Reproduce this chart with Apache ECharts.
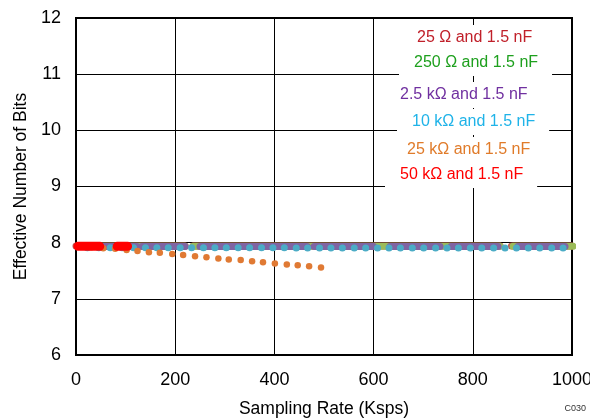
<!DOCTYPE html>
<html>
<head>
<meta charset="utf-8">
<script src="https://cdn.jsdelivr.net/npm/echarts@6/dist/echarts.min.js"></script>
<style>
  html, body { margin: 0; padding: 0; background: #fff; }
  #chart { width: 590px; height: 418px; }
</style>
</head>
<body>
<div id="chart"></div>
<script>
// series names (legend text)
var names = ['25 Ω and 1.5 nF', '250 Ω and 1.5 nF', '2.5 kΩ and 1.5 nF',
             '10 kΩ and 1.5 nF', '25 kΩ and 1.5 nF', '50 kΩ and 1.5 nF'];

// dense runs of points, read as [start, end] sampling rates (Ksps) at a flat ENOB
var runs25R = [[0, 220], [236, 855], [878, 1000]];
var enob25R = 7.942;
var runs250R = [[10, 220], [236, 855], [881, 1002]];
var enob250R = 7.935;
var runs2k5 = [[40, 123], [133, 220], [250, 466], [480, 600], [633, 734], [756, 851], [891, 986]];
var enob2k5 = 7.933;
var runs50k = [[4, 48], [83, 104]];
var enob50k = 7.935;

// 10 kOhm: separate points
var rate10k = [23, 46, 69, 93, 116, 140, 163, 186, 210, 233, 257, 280, 303, 327, 350, 374, 397, 420,
               444, 467, 491, 514, 537, 561, 584, 608, 631, 654, 678, 701, 725, 748, 771, 795, 818,
               842, 865, 888, 912, 935, 959, 982];
var enob10k = [7.91, 7.91, 7.91, 7.91, 7.91, 7.91, 7.91, 7.91, 7.91, 7.91, 7.91, 7.91, 7.91, 7.91,
               7.91, 7.91, 7.91, 7.91, 7.905, 7.905, 7.905, 7.905, 7.905, 7.905, 7.905, 7.905, 7.905,
               7.905, 7.905, 7.905, 7.905, 7.905, 7.905, 7.905, 7.905, 7.905, 7.905, 7.905, 7.905,
               7.905, 7.905, 7.905];

// 25 kOhm: drops with rate
var rate25k = [8, 31, 55, 79, 102, 124, 147, 169, 194, 216, 240, 263, 287, 308, 332, 355, 377, 401,
               425, 447, 470, 494];
var enob25k = [7.94, 7.92, 7.90, 7.89, 7.87, 7.85, 7.83, 7.82, 7.80, 7.78, 7.76, 7.74, 7.72, 7.70,
               7.69, 7.67, 7.65, 7.63, 7.61, 7.60, 7.58, 7.56];

var colors = ['#c0504d', '#9bbb59', '#8064a2', '#4bacc6', '#e07a34', '#ff0000'];
var textColors = ['#c0202a', '#1ea01e', '#7030a0', '#1fb3e8', '#e07b2a', '#ff0000'];

var font = 'Liberation Sans, Arial, sans-serif';

function runData(runs, y) {
    var out = [];
    runs.forEach(function (r, i) {
        if (i > 0) out.push([r[0], '-']);
        out.push([r[0], y]);
        out.push([r[1], y]);
    });
    return out;
}
function pairs(xs, ys) {
    return xs.map(function (x, i) { return [x, ys[i]]; });
}

function bandSeries(name, data, color, width) {
    return {
        name: name, type: 'line', data: data, symbol: 'none', color: color,
        lineStyle: { width: width, color: color, cap: 'round' }
    };
}
function dotSeries(name, data, color, size) {
    return {
        name: name, type: 'scatter', data: data, symbol: 'circle', symbolSize: size,
        itemStyle: { color: color, opacity: 1 }, z: 3
    };
}

var legendSpots = [[402, 25], [399, 50], [385, 82], [397, 109], [392, 137], [385, 162]];
var legends = names.map(function (n, i) {
    return {
        data: [n], left: legendSpots[i][0], top: legendSpots[i][1],
        itemWidth: 0, itemHeight: 0, icon: 'rect',
        backgroundColor: '#fff', padding: [4, 14, 4, 10],
        textStyle: { color: textColors[i], fontSize: 16, fontFamily: font, lineHeight: 18 }
    };
});

var chart = echarts.init(document.getElementById('chart'));
var option = {
    animation: false,
    backgroundColor: '#fff',
    legend: legends,
    grid: {
        left: 76, right: 18, top: 18, bottom: 63, containLabel: false, outerBoundsMode: 'none',
        show: true, borderColor: '#000', borderWidth: 2
    },
    xAxis: {
        type: 'value', min: 0, max: 1000, interval: 200,
        name: 'Sampling Rate (Ksps)', nameLocation: 'middle', nameGap: 45,
        nameTextStyle: { fontSize: 17.5, color: '#000', fontFamily: font },
        axisLine: { lineStyle: { color: '#000', width: 2 } },
        axisTick: { show: false },
        axisLabel: { fontSize: 18, color: '#000', fontFamily: font, margin: 16,
                     formatter: function (v) { return String(v); } },
        splitLine: { lineStyle: { color: '#000', width: 1 } }
    },
    yAxis: {
        type: 'value', min: 6, max: 12, interval: 1,
        name: 'Effective Number of Bits', nameLocation: 'middle', nameGap: 45,
        nameTextStyle: { fontSize: 17.5, color: '#000', fontFamily: font },
        axisLine: { show: true, lineStyle: { color: '#000', width: 2 } },
        axisTick: { show: false },
        axisLabel: { fontSize: 18, color: '#000', fontFamily: font, margin: 15 },
        splitLine: { lineStyle: { color: '#000', width: 1 } }
    },
    graphic: [{
        type: 'text', right: 4, top: 404,
        style: { text: 'C030', fontSize: 9, fill: '#333', fontFamily: font }
    }],
    series: [
        bandSeries(names[0], runData(runs25R, enob25R), colors[0], 7),
        bandSeries(names[1], runData(runs250R, enob250R), colors[1], 7),
        bandSeries(names[2], runData(runs2k5, enob2k5), colors[2], 7),
        dotSeries(names[3], pairs(rate10k, enob10k), colors[3], 7),
        dotSeries(names[4], pairs(rate25k, enob25k), colors[4], 6.5),
        bandSeries(names[5], runData(runs50k, enob50k), colors[5], 9)
    ]
};
option.series[5].z = 4;
option && chart.setOption(option);
</script>
</body>
</html>
